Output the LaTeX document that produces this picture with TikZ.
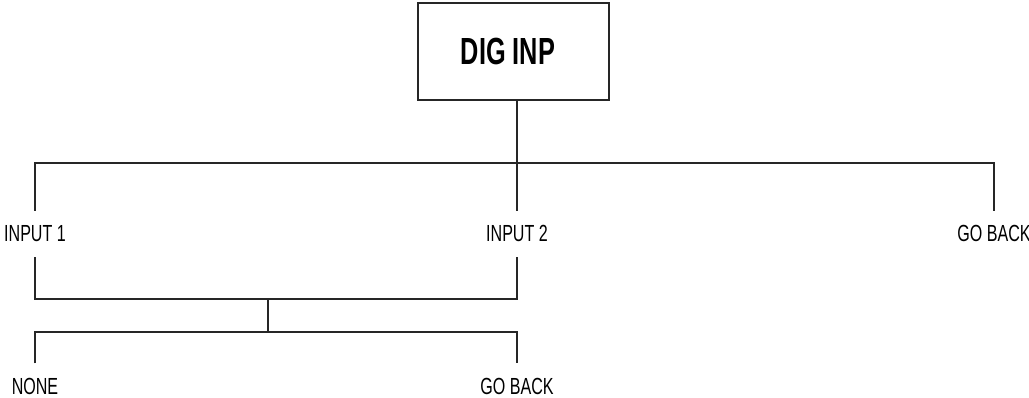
\documentclass[tikz,border=0pt]{standalone}
\usepackage{fontspec}
\setmainfont{Liberation Sans}[FakeStretch=0.69,BoldFeatures={FakeStretch=0.67}]
\begin{document}
\begin{tikzpicture}[x=1pt,y=-1pt,
  conn/.style={draw=black!85,line width=1.1pt},
  box/.style={draw=black!85,line width=1.1pt,minimum width=191pt,minimum height=97pt,inner sep=0pt,font=\fontsize{37.8}{40}\selectfont\bfseries},
  lbl/.style={font=\fontsize{23.3}{25}\selectfont,text height=16pt,text depth=0pt,inner xsep=0pt,inner ysep=15pt}]
\useasboundingbox (0,0) rectangle (1029,398);
\node[box] (dig) at (513.5,51.5) {\hspace*{-11pt}DIG INP};
\node[lbl] (in1) at (35,234) {INPUT 1};
\node[lbl] (in2) at (517,234) {INPUT 2};
\node[lbl] (gb1) at (994,234) {GO BACK};
\node[lbl] (none) at (35,386.5) {NONE};
\node[lbl] (gb2) at (517,386.5) {GO BACK};
\coordinate (j0) at (517,163);
\coordinate (j1) at (268,299);
\coordinate (j2) at (268,332);
\draw[conn] (in2.north |- dig.south) -- (in2.north);
\draw[conn] (in1.north) |- (j0) -| (gb1.north);
\draw[conn] (in1.south) |- (j1) -| (in2.south);
\draw[conn] (j1) -- (j2);
\draw[conn] (none.north) |- (j2) -| (gb2.north);
\end{tikzpicture}
\end{document}
